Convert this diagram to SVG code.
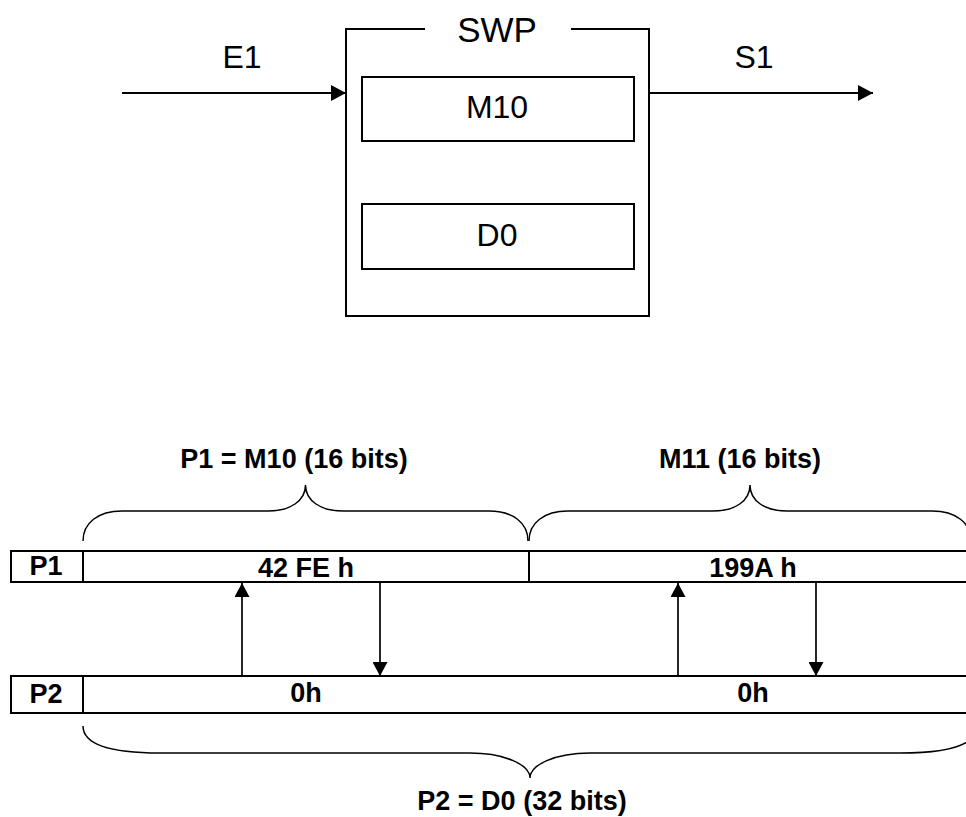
<svg xmlns="http://www.w3.org/2000/svg" width="966" height="817" viewBox="0 0 966 817">
<defs>
<style>
.ln{stroke:#000;stroke-width:2;fill:none}
.ar{stroke:#000;stroke-width:1.7;fill:none}
.br{stroke:#000;stroke-width:1.5;fill:none}
.box{stroke:#000;stroke-width:2;fill:#fff}
.t{font-family:"Liberation Sans",Arial,sans-serif;fill:#000;text-anchor:middle}
.big{font-size:32px}
.swp{font-size:35px}
.b{font-size:27px;font-weight:bold}
</style>
<marker id="ah" markerUnits="userSpaceOnUse" markerWidth="15" markerHeight="16" viewBox="0 0 15 16" refX="15" refY="8" orient="auto"><path d="M0,0 L15,8 L0,16 z" fill="#000"/></marker>
<marker id="ah2" markerUnits="userSpaceOnUse" markerWidth="14" markerHeight="15" viewBox="0 0 14 15" refX="14" refY="7.5" orient="auto"><path d="M0,0 L14,7.5 L0,15 z" fill="#000"/></marker>
</defs>
<rect x="0" y="0" width="966" height="817" fill="#fff"/>

<g id="swp">
<path class="ln" d="M425,29 H346 V316 H649 V29 H571"/>
<text class="t swp" x="497" y="42">SWP</text>
</g>
<g id="m10">
<rect class="box" x="362" y="77" width="272" height="64"/>
<text class="t big" x="497" y="118">M10</text>
</g>
<g id="d0">
<rect class="box" x="362" y="204" width="272" height="65"/>
<text class="t big" x="497" y="246">D0</text>
</g>

<g id="row-p1">
<rect class="box" x="11" y="551" width="966" height="31"/>
<line class="ln" x1="83" y1="551" x2="83" y2="582"/>
<line class="ln" x1="529" y1="551" x2="529" y2="582"/>
<text class="t b" x="46" y="575">P1</text>
<text class="t b" x="306" y="577">42 FE h</text>
<text class="t b" x="753" y="577">199A h</text>
</g>
<g id="row-p2">
<rect class="box" x="11" y="676" width="966" height="37"/>
<line class="ln" x1="83" y1="676" x2="83" y2="713"/>
<text class="t b" x="46" y="703">P2</text>
<text class="t b" x="306" y="702">0h</text>
<text class="t b" x="753" y="702">0h</text>
</g>

<g id="brace-m10">
<path class="br" d="M83,541 C83,523 98,511 122,511 L268,511 C290,511 305.5,501 305.5,485 C305.5,501 321,511 343,511 L489,511 C513,511 528,523 528,541"/>
<text class="t b" x="294" y="468">P1 = M10 (16 bits)</text>
</g>
<g id="brace-m11">
<path class="br" d="M529,541 C529,523 544,511 568,511 L713,511 C735,511 750,501 750,485 C750,501 765,511 787,511 L932,511 C956,511 971,523 971,541"/>
<text class="t b" x="740" y="468">M11 (16 bits)</text>
</g>
<g id="brace-d0">
<path class="br" d="M83,726 C83,745 110,753 160,753 L470,753 C505,753 530,765 530,778 C530,765 555,753 590,753 L900,753 C950,753 977,745 977,726"/>
<text class="t b" x="522" y="810">P2 = D0 (32 bits)</text>
</g>

<g id="connectors">
<line class="ln" x1="122" y1="93" x2="346" y2="93" marker-end="url(#ah)"/>
<text class="t big" x="242" y="68">E1</text>
<line class="ln" x1="650" y1="93" x2="873" y2="93" marker-end="url(#ah)"/>
<text class="t big" x="754" y="68">S1</text>
<line class="ar" x1="242" y1="676" x2="242" y2="583" marker-end="url(#ah2)"/>
<line class="ar" x1="380" y1="583" x2="380" y2="676" marker-end="url(#ah2)"/>
<line class="ar" x1="678" y1="676" x2="678" y2="583" marker-end="url(#ah2)"/>
<line class="ar" x1="816" y1="583" x2="816" y2="676" marker-end="url(#ah2)"/>
</g>
</svg>
